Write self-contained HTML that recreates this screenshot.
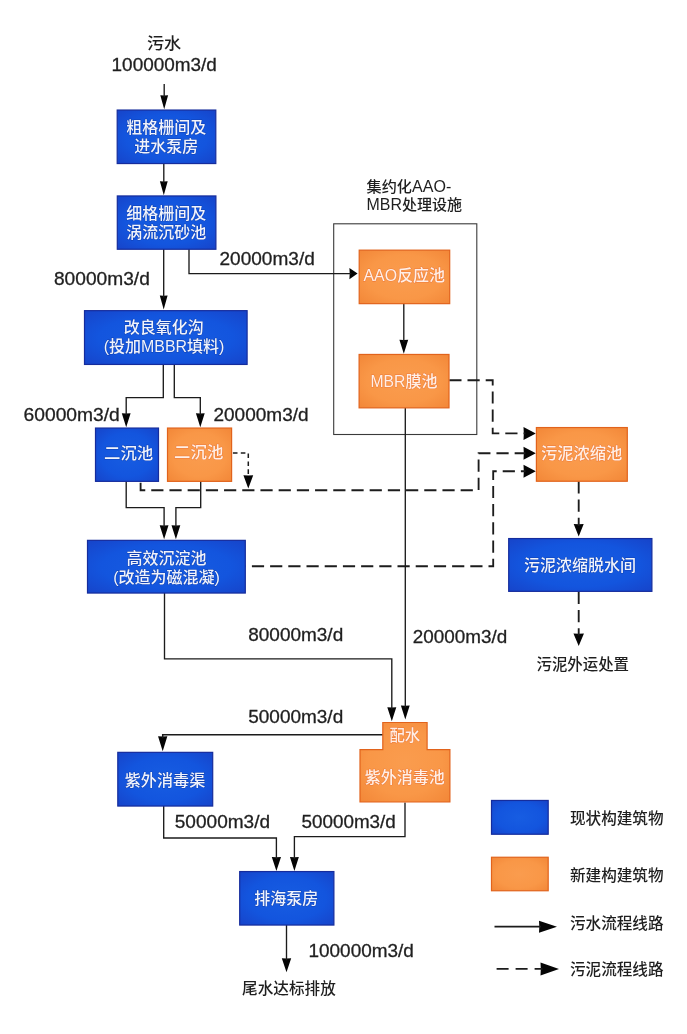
<!DOCTYPE html>
<html lang="zh-CN">
<head>
<meta charset="utf-8">
<title>污水处理工艺流程图</title>
<style>
html,body{margin:0;padding:0;background:#fff;}
body{width:687px;height:1034px;overflow:hidden;}
svg{display:block;filter:blur(0.5px);}
text{font-family:"Liberation Sans", "Noto Sans CJK SC", sans-serif;font-weight:500;}
.w{fill:#f0f3fc;stroke:rgba(10,20,90,0.35);stroke-width:0.9;paint-order:stroke;}
.v{fill:#ffefe6;stroke:rgba(214,60,30,0.35);stroke-width:0.9;paint-order:stroke;}
.k{fill:#1f1f1f;}
.n{stroke:#1f1f1f;stroke-width:0.3;}
.s{fill:none;stroke:#1b1b1b;stroke-width:1.35;}
.d{fill:none;stroke:#1c1c1c;stroke-width:1.85;}
.g{fill:none;stroke:#3a3a3a;stroke-width:1.1;}
.h{fill:#050505;}
.b{fill:url(#gb);stroke:#152c9c;stroke-width:1.2;}
.o{fill:url(#go);stroke:#e1631c;stroke-width:1.2;}
</style>
</head>
<body>
<svg width="687" height="1034" viewBox="0 0 687 1034">
<defs>
<radialGradient id="gb" cx="50%" cy="50%" r="75%">
<stop offset="0" stop-color="#175de2"/><stop offset="0.55" stop-color="#1355de"/><stop offset="1" stop-color="#1741c6"/>
</radialGradient>
<radialGradient id="go" cx="50%" cy="50%" r="75%">
<stop offset="0" stop-color="#fa9c4e"/><stop offset="0.55" stop-color="#f99747"/><stop offset="1" stop-color="#f18435"/>
</radialGradient>
</defs>
<rect width="687" height="1034" fill="#ffffff"/>
<rect class="g" x="333.7" y="223.8" width="143.1" height="210.7"/>
<polygon class="h" points="164.2,109.3 160.3,95.3 164.2,95.6 168.1,95.3"/>
<path class="s" d="M164.2 84 L164.2 97.3"/>
<polygon class="h" points="163.8,195.3 159.9,181.3 163.8,181.6 167.7,181.3"/>
<path class="s" d="M163.8 163.5 L163.8 183.3"/>
<polygon class="h" points="163.7,309.5 159.8,295.5 163.7,295.8 167.6,295.5"/>
<path class="s" d="M163.7 249 L163.7 297.5"/>
<polygon class="h" points="357.6,273.6 349.4,268 349.7,273.6 349.4,279.2"/>
<path class="s" d="M189 249 L189 273.6 L351.4 273.6"/>
<polygon class="h" points="403.8,353.8 399.4,339.8 403.8,340.1 408.2,339.8"/>
<path class="s" d="M403.8 303.5 L403.8 341.8"/>
<polygon class="h" points="126.2,427.3 121.8,413.3 126.2,413.6 130.6,413.3"/>
<path class="s" d="M163.3 363.5 L163.3 397.6 L126.2 397.6 L126.2 415.3"/>
<polygon class="h" points="200.3,427.3 195.9,413.3 200.3,413.6 204.7,413.3"/>
<path class="s" d="M174.3 363.5 L174.3 397.6 L200.3 397.6 L200.3 415.3"/>
<polygon class="h" points="164.1,539.2 159.7,525.2 164.1,525.5 168.5,525.2"/>
<path class="s" d="M126.2 481 L126.2 507.6 L164.1 507.6 L164.1 527.2"/>
<polygon class="h" points="175.9,539.2 171.5,525.2 175.9,525.5 180.3,525.2"/>
<path class="s" d="M200.7 481 L200.7 507.6 L175.9 507.6 L175.9 527.2"/>
<polygon class="h" points="391.8,721.2 387.3,707.2 391.8,707.5 396.3,707.2"/>
<path class="s" d="M164.5 593 L164.5 658.8 L391.8 658.8 L391.8 709.2"/>
<polygon class="h" points="405.3,719.5 400.9,705.5 405.3,705.8 409.7,705.5"/>
<path class="s" d="M405.3 407.5 L405.3 707.5"/>
<polygon class="h" points="162.7,751.2 158.05,736.2 162.7,736.5 167.35,736.2"/>
<path class="s" d="M383 734.8 L162.7 734.8 L162.7 738.2" style="stroke-width:1.5"/>
<polygon class="h" points="276.4,870.9 271.8,856.9 276.4,857.2 281,856.9"/>
<path class="s" d="M163.7 806 L163.7 838 L276.4 838 L276.4 858.9"/>
<polygon class="h" points="294.4,870.9 289.95,856.9 294.4,857.2 298.85,856.9"/>
<path class="s" d="M405 802.5 L405 836.6 L294.4 836.6 L294.4 858.9"/>
<polygon class="h" points="286.5,972.3 281.8,958.3 286.5,958.6 291.2,958.3"/>
<path class="s" d="M286.5 925 L286.5 960.3"/>
<polygon class="h" points="557,926.7 539,920.7 539.3,926.7 539,932.7"/>
<path class="s" d="M494.5 926.7 L541 926.7" style="stroke-width:1.7"/>
<polygon class="h" points="248.3,488.6 243.4,475.3 248.3,475.6 253.2,475.3"/>
<path class="d" d="M232 453.1 L248.3 453.1 L248.3 477.3" stroke-dasharray="4.6 3.3" stroke-dashoffset="-0.9" style="stroke-width:1.5"/>
<polygon class="h" points="535.8,453.2 523.5,446.7 523.8,453.2 523.5,459.7"/>
<path class="d" d="M140.6 481 L140.6 490.2 L478.6 490.2 L478.6 453.2 L525.5 453.2" stroke-dasharray="12.2 6" stroke-dashoffset="-1.65"/>
<polygon class="h" points="535.8,471.2 523.5,464.7 523.8,471.2 523.5,477.7"/>
<path class="d" d="M245.6 566.2 L493.2 566.2 L493.2 471.2 L525.5 471.2" stroke-dasharray="12.2 6" stroke-dashoffset="11.9"/>
<polygon class="h" points="535.8,433.4 523.5,426.9 523.8,433.4 523.5,439.9"/>
<path class="d" d="M449.3 380.2 L492.7 380.2 L492.7 433.4 L525.5 433.4" stroke-dasharray="12.2 6"/>
<polygon class="h" points="578.7,536.4 573.7,523.9 578.7,524.2 583.7,523.9"/>
<path class="d" d="M578.7 481.3 L578.7 525.9" stroke-dasharray="12.2 6"/>
<polygon class="h" points="578.7,645.9 573.45,633.4 578.7,633.7 583.95,633.4"/>
<path class="d" d="M578.7 591.8 L578.7 635.4" stroke-dasharray="12.2 6"/>
<polygon class="h" points="559,968.9 540.5,962.4 540.8,968.9 540.5,975.4"/>
<path class="d" d="M496.6 968.9 L542.5 968.9" stroke-dasharray="12 7"/>
<rect class="b" x="117.2" y="110.05" width="98.6" height="53.5"/>
<rect class="b" x="117.3" y="195.95" width="98.6" height="53.3"/>
<rect class="b" x="84.5" y="310.65" width="162.6" height="53.8"/>
<rect class="b" x="95.5" y="428.05" width="63" height="53.3"/>
<rect class="o" x="167.5" y="428.05" width="64.1" height="53.3"/>
<rect class="b" x="87.5" y="540.35" width="157.8" height="52.7"/>
<rect class="o" x="359.2" y="250.15" width="90.5" height="53.5"/>
<rect class="o" x="359.1" y="354.45" width="89.9" height="53.4"/>
<rect class="o" x="536.4" y="427.55" width="90.9" height="53.7"/>
<rect class="b" x="508.7" y="538.55" width="143.2" height="52.8"/>
<path class="o" d="M382.8 722.5 H427.1 V749.7 H449.9 V802 H360 V749.7 H382.8 Z"/>
<rect class="b" x="117.8" y="752.35" width="94.9" height="53.7"/>
<rect class="b" x="239.7" y="871.55" width="94.2" height="53.5"/>
<rect class="b" x="491.5" y="800.45" width="56.7" height="33.8"/>
<rect class="o" x="491.5" y="857.25" width="56.7" height="33.5"/>
<text x="166.2" y="132.8" font-size="16" text-anchor="middle" class="w">粗格栅间及</text>
<text x="166.2" y="152.3" font-size="16" text-anchor="middle" class="w">进水泵房</text>
<text x="166.3" y="218.6" font-size="16" text-anchor="middle" class="w">细格栅间及</text>
<text x="166.3" y="238" font-size="16" text-anchor="middle" class="w">涡流沉砂池</text>
<text x="163.8" y="332.6" font-size="16" text-anchor="middle" class="w">改良氧化沟</text>
<text x="164" y="352" font-size="16" text-anchor="middle" class="w">(投加<tspan font-size="17.3" font-weight="400" textLength="46" lengthAdjust="spacingAndGlyphs">MBBR</tspan>填料)</text>
<text x="128.6" y="459" font-size="16.4" text-anchor="middle" class="w">二沉池</text>
<text x="198.7" y="458.2" font-size="16.4" text-anchor="middle" class="v">二沉池</text>
<text x="166.5" y="563.5" font-size="16" text-anchor="middle" class="w">高效沉淀池</text>
<text x="166.5" y="583" font-size="16" text-anchor="middle" class="w">(改造为磁混凝)</text>
<text x="404.3" y="281" font-size="16" text-anchor="middle" class="v"><tspan font-size="17.3" font-weight="400" textLength="33.5" lengthAdjust="spacingAndGlyphs">AAO</tspan>反应池</text>
<text x="404" y="386.8" font-size="16" text-anchor="middle" class="v"><tspan font-size="17.3" font-weight="400" textLength="35" lengthAdjust="spacingAndGlyphs">MBR</tspan>膜池</text>
<text x="581.6" y="458.6" font-size="16.3" text-anchor="middle" class="v">污泥浓缩池</text>
<text x="580" y="570.5" font-size="16" text-anchor="middle" class="w">污泥浓缩脱水间</text>
<text x="404.8" y="740.5" font-size="15.4" text-anchor="middle" class="v">配水</text>
<text x="404.8" y="782.7" font-size="16" text-anchor="middle" class="v">紫外消毒池</text>
<text x="165" y="785.5" font-size="16.1" text-anchor="middle" class="w">紫外消毒渠</text>
<text x="286.2" y="903.7" font-size="16" text-anchor="middle" class="w">排海泵房</text>
<text x="146.95" y="49.2" font-size="16.3" text-anchor="start" class="k" textLength="34.26" lengthAdjust="spacingAndGlyphs">污水</text>
<text x="111.58" y="70.9" font-size="18.5" text-anchor="start" class="k n" font-weight="400" textLength="105.32" lengthAdjust="spacingAndGlyphs">100000m3/d</text>
<text x="53.96" y="285" font-size="18.5" text-anchor="start" class="k n" font-weight="400" textLength="95.83" lengthAdjust="spacingAndGlyphs">80000m3/d</text>
<text x="219.47" y="265.2" font-size="18.5" text-anchor="start" class="k n" font-weight="400" textLength="95.32" lengthAdjust="spacingAndGlyphs">20000m3/d</text>
<text x="23.56" y="420.6" font-size="18.5" text-anchor="start" class="k n" font-weight="400" textLength="96.24" lengthAdjust="spacingAndGlyphs">60000m3/d</text>
<text x="213.47" y="420.6" font-size="18.5" text-anchor="start" class="k n" font-weight="400" textLength="95.12" lengthAdjust="spacingAndGlyphs">20000m3/d</text>
<text x="248.27" y="641.2" font-size="18.5" text-anchor="start" class="k n" font-weight="400" textLength="94.92" lengthAdjust="spacingAndGlyphs">80000m3/d</text>
<text x="412.78" y="643" font-size="18.5" text-anchor="start" class="k n" font-weight="400" textLength="94.41" lengthAdjust="spacingAndGlyphs">20000m3/d</text>
<text x="248.27" y="723" font-size="18.5" text-anchor="start" class="k n" font-weight="400" textLength="94.92" lengthAdjust="spacingAndGlyphs">50000m3/d</text>
<text x="174.77" y="827.6" font-size="18.5" text-anchor="start" class="k n" font-weight="400" textLength="95.32" lengthAdjust="spacingAndGlyphs">50000m3/d</text>
<text x="301.48" y="827.6" font-size="18.5" text-anchor="start" class="k n" font-weight="400" textLength="94.31" lengthAdjust="spacingAndGlyphs">50000m3/d</text>
<text x="308.48" y="956.7" font-size="18.5" text-anchor="start" class="k n" font-weight="400" textLength="105.42" lengthAdjust="spacingAndGlyphs">100000m3/d</text>
<text x="366.58" y="191.7" font-size="14.8" text-anchor="start" class="k" textLength="84.71" lengthAdjust="spacingAndGlyphs">集约化<tspan font-size="15.7" font-weight="400">AAO-</tspan></text>
<text x="366.58" y="209.5" font-size="14.8" text-anchor="start" class="k" textLength="95.49" lengthAdjust="spacingAndGlyphs"><tspan font-size="15.7" font-weight="400">MBR</tspan>处理设施</text>
<text x="536.5" y="670.4" font-size="15.4" text-anchor="start" class="k" textLength="92.56" lengthAdjust="spacingAndGlyphs">污泥外运处置</text>
<text x="242.09" y="993.6" font-size="15.4" text-anchor="start" class="k" textLength="93.68" lengthAdjust="spacingAndGlyphs">尾水达标排放</text>
<text x="569.99" y="824.4" font-size="15.4" text-anchor="start" class="k" textLength="93.58" lengthAdjust="spacingAndGlyphs">现状构建筑物</text>
<text x="569.99" y="880.6" font-size="15.4" text-anchor="start" class="k" textLength="93.58" lengthAdjust="spacingAndGlyphs">新建构建筑物</text>
<text x="569.99" y="929.4" font-size="15.4" text-anchor="start" class="k" textLength="93.58" lengthAdjust="spacingAndGlyphs">污水流程线路</text>
<text x="569.99" y="975" font-size="15.4" text-anchor="start" class="k" textLength="93.58" lengthAdjust="spacingAndGlyphs">污泥流程线路</text>
</svg>
</body>
</html>
